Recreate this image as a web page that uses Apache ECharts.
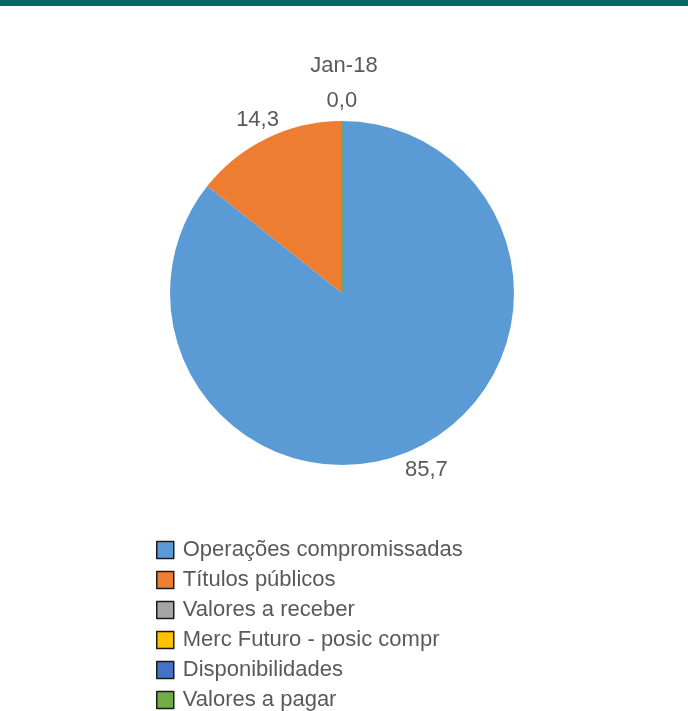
<!DOCTYPE html>
<html>
<head>
<meta charset="utf-8">
<script src="https://cdn.jsdelivr.net/npm/echarts@6/dist/echarts.min.js"></script>
<style>
  html, body { margin: 0; padding: 0; background: #fff; }
  .top-band { position: absolute; left: 0; top: 0; width: 688px; height: 6px; background: #006b63; }
  #chart { width: 688px; height: 711px; }
</style>
</head>
<body>
<div class="top-band"></div>
<div id="chart"></div>
<script>
const title = 'Jan-18';
const categories = [
  'Operações compromissadas',
  'Títulos públicos',
  'Valores a receber',
  'Merc Futuro - posic compr',
  'Disponibilidades',
  'Valores a pagar'
];
const values = [85.7, 14.3, 0, 0, 0, 0.02];
const showLabel = [true, true, false, false, false, true];
const colors = ['#5b9bd5', '#ed7d31', '#a5a5a5', '#ffc000', '#4472c4', '#70ad47'];

const fmt = (v) => v.toFixed(1).replace('.', ',');

const chart = echarts.init(document.getElementById('chart'));
chart.setOption({
  animation: false,
  textStyle: { fontFamily: 'Liberation Sans, Arial, sans-serif' },
  title: {
    text: title,
    left: 'center',
    top: 50,
    textStyle: { color: '#595959', fontSize: 22, fontWeight: 'normal' }
  },
  legend: {
    orient: 'vertical',
    left: 156,
    top: 539,
    height: 200,
    padding: 0,
    itemWidth: 17,
    itemHeight: 17,
    itemGap: 8,
    icon: 'rect',
    itemStyle: { borderColor: '#1a1a1a', borderWidth: 1.5 },
    textStyle: { color: '#595959', fontSize: 22, lineHeight: 22, padding: [0, 0, 0, 4] },
    data: categories
  },
  series: [
    {
      type: 'pie',
      center: [342, 293],
      radius: 172,
      startAngle: 90,
      clockwise: true,
      avoidLabelOverlap: false,
      stillShowZeroSum: true,
      label: {
        position: 'outside',
        color: '#595959',
        fontSize: 22,
        distanceToLabelLine: 0,
        formatter: (p) => fmt(p.value)
      },
      labelLine: { show: false, length: 22, length2: 0 },
      labelLayout: { align: 'center', verticalAlign: 'middle', dy: 2 },
      itemStyle: { borderWidth: 0 },
      emphasis: { disabled: true },
      data: categories.map((name, i) => ({
        name,
        value: values[i],
        itemStyle: i === 5
          ? { color: colors[i], borderColor: colors[i], borderWidth: 1 }
          : { color: colors[i] },
        label: { show: showLabel[i] }
      }))
    }
  ]
});
</script>
</body>
</html>
